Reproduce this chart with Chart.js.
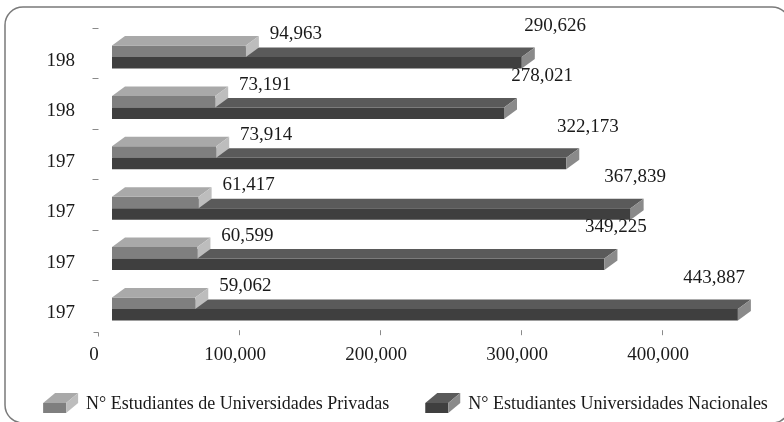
<!DOCTYPE html>
<html><head><meta charset="utf-8">
<script src="https://cdn.jsdelivr.net/npm/chart.js@4.4.1/dist/chart.umd.min.js"></script>
<style>html,body{margin:0;padding:0;background:#fff;}</style>
</head><body>
<canvas id="c" width="784" height="422"></canvas>
<script>
const categories = ["198", "198", "197", "197", "197", "197"];
const privadas = [94963, 73191, 73914, 61417, 60599, 59062];
const nacionales = [290626, 278021, 322173, 367839, 349225, 443887];
const xTickValues = [0, 100000, 200000, 300000, 400000];
const seriesNames = ["N° Estudiantes de Universidades Privadas", "N° Estudiantes Universidades Nacionales"];

const FONT = "'Liberation Serif', 'Times New Roman', serif";
const TEXT = '#1a1a1a';
const faces = [
  {front: '#7f7f7f', top: '#a9a9a9', side: '#bdbdbd'},
  {front: '#3f3f3f', top: '#5a5a5a', side: '#8a8a8a'}
];
const DX = 13, DY = 9.5;
const nf = new Intl.NumberFormat('en-US');
const fmt = v => nf.format(Number(v));

function drawBox(g, x, y, f) {
  g.fillStyle = f.front; g.fillRect(x, y + 10, 23, 10);
  g.fillStyle = f.top; g.beginPath(); g.moveTo(x, y + 10); g.lineTo(x + 23, y + 10); g.lineTo(x + 35, y); g.lineTo(x + 12, y); g.closePath(); g.fill();
  g.fillStyle = f.side; g.beginPath(); g.moveTo(x + 23, y + 10); g.lineTo(x + 35, y); g.lineTo(x + 35, y + 10); g.lineTo(x + 23, y + 20); g.closePath(); g.fill();
}

const deco = {
  id: 'deco',
  beforeDraw(chart) {
    const ctx = chart.ctx;
    const x = 5, y = 7, w = 785, h = 416, r = 18;
    ctx.save();
    ctx.strokeStyle = '#7a7a7a'; ctx.lineWidth = 1.5;
    ctx.beginPath();
    ctx.moveTo(x + r, y);
    ctx.arcTo(x + w, y, x + w, y + h, r);
    ctx.arcTo(x + w, y + h, x, y + h, r);
    ctx.arcTo(x, y + h, x, y, r);
    ctx.arcTo(x, y, x + w, y, r);
    ctx.closePath();
    ctx.stroke();
    ctx.restore();
  },
  afterDatasetDraw(chart, args) {
    const ctx = chart.ctx;
    const f = faces[args.index];
    ctx.save();
    args.meta.data.forEach(el => {
      const {x, y, base, height} = el.getProps(['x', 'y', 'base', 'height'], true);
      const t = y - height / 2, b = y + height / 2;
      ctx.fillStyle = f.top;
      ctx.beginPath(); ctx.moveTo(base, t); ctx.lineTo(x, t); ctx.lineTo(x + DX, t - DY); ctx.lineTo(base + DX, t - DY); ctx.closePath(); ctx.fill();
      ctx.fillStyle = f.side;
      ctx.beginPath(); ctx.moveTo(x, t); ctx.lineTo(x + DX, t - DY); ctx.lineTo(x + DX, b - DY); ctx.lineTo(x, b); ctx.closePath(); ctx.fill();
    });
    ctx.restore();
  },
  afterDatasetsDraw(chart) {
    const ctx = chart.ctx;
    const xs = chart.scales.x, ys = chart.scales.y;
    ctx.save();
    ctx.font = '19px ' + FONT; ctx.fillStyle = TEXT;
    ctx.textAlign = 'center'; ctx.textBaseline = 'middle';
    chart.data.datasets.forEach((ds, di) => {
      const meta = chart.getDatasetMeta(di);
      meta.data.forEach((el, i) => {
        let lx, ly;
        if (di === 0) { lx = el.x + 50; ly = el.y - 17; }
        else { lx = el.x - 0.265 * (el.x - el.base) + 142; ly = el.y - 37; }
        ctx.fillText(fmt(ds.data[i]), lx, ly);
      });
    });
    ctx.strokeStyle = '#8a8a8a'; ctx.lineWidth = 1;
    const axX = Math.round(xs.getPixelForValue(0) - 14) + 0.5;
    for (let i = 0; i < categories.length; i++) {
      const yy = Math.round(ys.getPixelForValue(i - 0.5) - 3.8) + 0.5;
      ctx.beginPath(); ctx.moveTo(axX - 6, yy); ctx.lineTo(axX, yy); ctx.stroke();
    }
    const yb = Math.round(ys.getPixelForValue(categories.length - 0.5) - 2.5) + 0.5;
    ctx.beginPath(); ctx.moveTo(axX - 5, yb); ctx.lineTo(axX, yb); ctx.lineTo(axX, yb + 4); ctx.stroke();
    xTickValues.forEach(v => {
      if (v === 0) return;
      const xx = Math.round(xs.getPixelForValue(v) - 14) + 0.5;
      const cb = chart.chartArea.bottom;
      ctx.beginPath(); ctx.moveTo(xx, cb - 4); ctx.lineTo(xx, cb + 1); ctx.stroke();
    });
    ctx.font = '18px ' + FONT; ctx.textAlign = 'left'; ctx.textBaseline = 'middle'; ctx.fillStyle = TEXT;
    const widths = chart.data.datasets.map(ds => ctx.measureText(ds.label).width);
    const ICON = 35, GAP = 8, ITEMGAP = 36;
    const total = widths.reduce((a, w) => a + ICON + GAP + w, 0) + ITEMGAP * (widths.length - 1);
    let lx = 405.5 - total / 2;
    const ly = 404;
    chart.data.datasets.forEach((ds, di) => {
      drawBox(ctx, lx, ly - 11, faces[di]);
      ctx.fillStyle = TEXT;
      ctx.fillText(ds.label, lx + ICON + GAP, ly);
      lx += ICON + GAP + widths[di] + ITEMGAP;
    });
    ctx.restore();
  }
};

new Chart(document.getElementById('c'), {
  type: 'bar',
  data: {
    labels: categories,
    datasets: [
      {label: seriesNames[0], data: privadas, backgroundColor: faces[0].front, borderWidth: 0},
      {label: seriesNames[1], data: nacionales, backgroundColor: faces[1].front, borderWidth: 0}
    ]
  },
  options: {
    locale: 'en-US',
    indexAxis: 'y',
    responsive: false,
    animation: false,
    devicePixelRatio: 1,
    categoryPercentage: 0.456,
    barPercentage: 1,
    layout: {padding: {top: 31.8, right: 9.3, left: 0, bottom: 57.8}},
    scales: {
      x: {
        type: 'linear', min: 0, max: 470000,
        afterBuildTicks: s => { s.ticks = xTickValues.map(v => ({value: v})); },
        afterFit: s => { s.height = 30; s.paddingLeft = 0; s.paddingRight = 0; },
        grid: {display: false, drawTicks: false},
        border: {display: false},
        ticks: {font: {family: FONT, size: 19}, color: TEXT, padding: 9.4, labelOffset: -18, maxRotation: 0, autoSkip: false, callback: v => fmt(v)}
      },
      y: {
        afterFit: s => { s.width = 112; s.paddingTop = 0; s.paddingBottom = 0; },
        grid: {display: false, drawTicks: false},
        border: {display: false},
        ticks: {font: {family: FONT, size: 19}, color: TEXT, padding: 37, labelOffset: 4}
      }
    },
    plugins: {
      tooltip: {enabled: false},
      legend: {display: false}
    }
  },
  plugins: [deco]
});
</script>
</body></html>
